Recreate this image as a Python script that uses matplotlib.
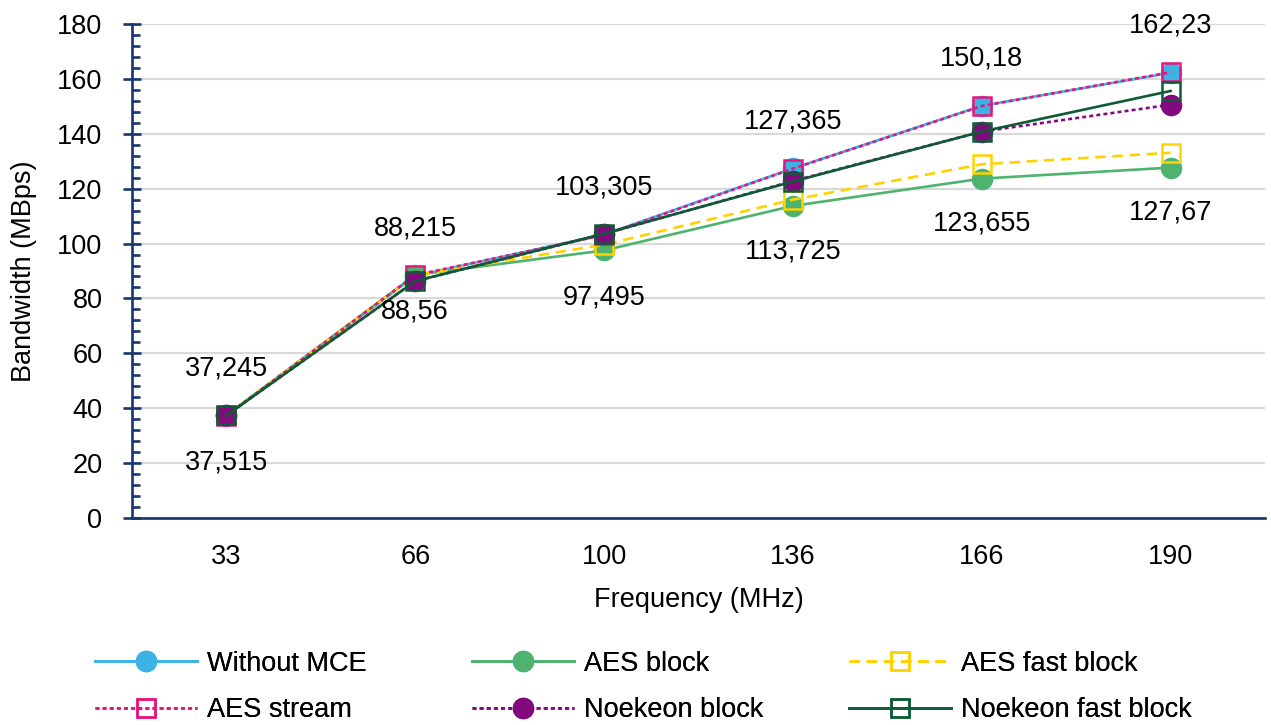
import matplotlib
matplotlib.use("Agg")
import matplotlib.pyplot as plt
from matplotlib.ticker import MultipleLocator

plt.rcParams['font.family'] = ['Liberation Sans', 'DejaVu Sans']

# Clock frequencies (MHz) and measured bandwidth (MBps) per configuration
frequencies = ["33", "66", "100", "136", "166", "190"]
without_mce = [37.245, 88.215, 103.305, 127.365, 150.18, 162.23]
aes_block = [37.515, 88.56, 97.495, 113.725, 123.655, 127.67]
aes_fast_block = [37.4, 88.4, 99.6, 116.0, 128.9, 133.1]
aes_stream = [37.3, 88.5, 103.1, 127.3, 150.1, 162.4]
noekeon_block = [37.4, 86.3, 103.5, 122.8, 140.8, 150.6]
noekeon_fast_block = [37.4, 86.3, 103.6, 122.6, 140.8, 155.6]

series_names = ["Without MCE", "AES block", "AES fast block",
                "AES stream", "Noekeon block", "Noekeon fast block"]

FS = 19.5
NAVY = "#17356E"
W, H = 1271, 725

fig = plt.figure(figsize=(W / 100, H / 100), dpi=100)
ax = fig.add_axes([132 / W, 1 - 518 / H, (1265 - 132) / W, (518 - 24) / H])

x = list(range(len(frequencies)))

styles = [
    dict(color="#3BB4E5", ls="-", marker="o", mfc="#3BB4E5", mec="#3BB4E5", ms=14.5),
    dict(color="#4DB36E", ls="-", marker="o", mfc="#4DB36E", mec="#4DB36E", ms=14.5),
    dict(color="#FFD200", ls=(0, (4, 2.5)), marker="s", mfc="none", mec="#FFD200", ms=13.5, mew=1.8),
    dict(color="#E6157E", ls=(0, (1.5, 1.2)), marker="s", mfc="none", mec="#E6157E", ms=13.5, mew=1.8),
    dict(color="#820A7E", ls=(0, (1.5, 1.2)), marker="o", mfc="#820A7E", mec="#820A7E", ms=14.5),
    dict(color="#0E5A36", ls="-", marker="s", mfc="none", mec="#0E5A36", ms=13.5, mew=1.8),
]
all_series = [without_mce, aes_block, aes_fast_block, aes_stream,
              noekeon_block, noekeon_fast_block]

handles = []
for name, vals, st in zip(series_names, all_series, styles):
    (h,) = ax.plot(x, vals, lw=1.9, label=name, zorder=3, **st)
    handles.append(h)

# Value labels: reference configuration above, AES block below
for xi, v in zip(x, without_mce):
    ax.annotate(f"{v:g}".replace(".", ","), (xi, v), xytext=(0, 34),
                textcoords="offset points", ha="center", va="center", fontsize=FS)
low_offsets = [-34, -26, -34, -33, -32, -32]
for xi, v, off in zip(x, aes_block, low_offsets):
    ax.annotate(f"{v:g}".replace(".", ","), (xi, v), xytext=(0, off),
                textcoords="offset points", ha="center", va="center", fontsize=FS)

ax.set_xlim(-0.5, len(frequencies) - 0.5)
ax.set_ylim(0, 180)
ax.set_xticks(x)
ax.set_xticklabels(frequencies)
ax.yaxis.set_major_locator(MultipleLocator(20))
ax.yaxis.set_minor_locator(MultipleLocator(4))

ax.grid(axis="y", which="major", color="#D9D9D9", lw=1.6, zorder=0)
ax.set_axisbelow(True)

for side in ("top", "right"):
    ax.spines[side].set_visible(False)
for side in ("left", "bottom"):
    ax.spines[side].set_color(NAVY)
    ax.spines[side].set_linewidth(1.9)

ax.tick_params(axis="y", which="major", direction="inout", length=12.5,
               width=1.9, color=NAVY, labelsize=FS, pad=15)
ax.tick_params(axis="y", which="minor", direction="in", length=5.5,
               width=1.9, color=NAVY)
ax.tick_params(axis="x", which="both", length=0, labelsize=FS, pad=19)

ax.set_xlabel("Frequency (MHz)", fontsize=FS)
ax.set_ylabel("Bandwidth (MBps)", fontsize=FS)
ax.xaxis.set_label_coords(0.5, -(600 - 518) / (518 - 24), transform=ax.transAxes)
ax.xaxis.label.set_va("center")
ax.yaxis.set_label_coords(-(132 - 24) / (1265 - 132), 0.5, transform=ax.transAxes)
ax.yaxis.label.set_va("center")

# Three legend columns with equal spacing
col_x = [95 / W, 472 / W, 849 / W]
for ci in range(3):
    hs = [handles[ci], handles[ci + 3]]
    leg = fig.legend(hs, [h.get_label() for h in hs], loc="center left",
                     bbox_to_anchor=(col_x[ci], 1 - 687 / H),
                     frameon=False, fontsize=FS, handlelength=3.75,
                     handletextpad=0.4, labelspacing=0.77,
                     borderpad=0, borderaxespad=0)
    fig.add_artist(leg)

fig.savefig("out.png", dpi=100)
